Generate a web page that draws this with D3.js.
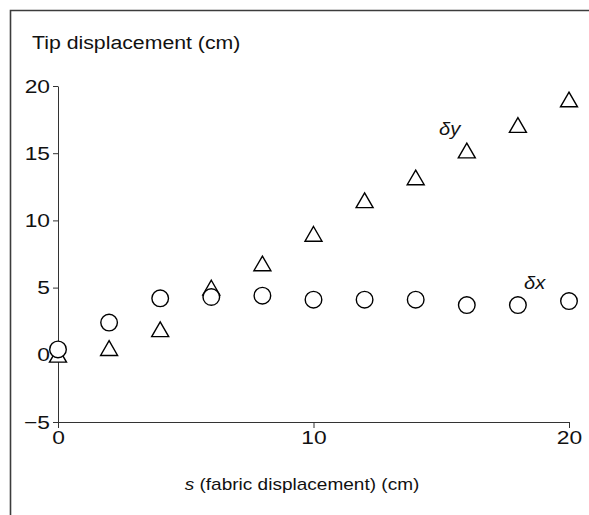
<!DOCTYPE html>
<html>
<head>
<meta charset="utf-8">
<script src="https://cdn.jsdelivr.net/npm/d3@7"></script>
<style>
  body { margin: 0; background: #fff; }
  svg text { font-family: "Liberation Sans", Arial, sans-serif; fill: #111; }
</style>
</head>
<body>
<div id="chart"></div>
<script>
// datos
const sValues = [0, 2, 4, 6, 8, 10, 12, 14, 16, 18, 20];
const deltaX = [0.4, 2.4, 4.2, 4.3, 4.4, 4.1, 4.1, 4.1, 3.7, 3.7, 4.0];
const deltaY = [0.0, 0.5, 1.9, 5.0, 6.8, 9.0, 11.5, 13.2, 15.2, 17.1, 19.0];
const xTicks = [0, 10, 20];
const yTicks = [-5, 0, 5, 10, 15, 20];

const width = 589, height = 515;

const svg = d3.select('#chart').append('svg')
    .attr('width', width).attr('height', height);

// marco exterior (solo arriba e izquierda visibles)
svg.append('path')
    .attr('d', `M10.5,${height} V10.5 H${width}`)
    .attr('fill', 'none').attr('stroke', '#3c3c3c').attr('stroke-width', 1.6);

const x = d3.scaleLinear().domain([0, 20]).range([58, 569]);
const y = d3.scaleLinear().domain([-5, 20]).range([422, 86]);

// texto con ensanche horizontal (el original sale algo ensanchado)
function label(px, py, size, stretch, anchor) {
    return svg.append('text')
        .attr('transform', `translate(${px},${py}) scale(${stretch},1)`)
        .attr('text-anchor', anchor || 'start')
        .attr('font-size', size);
}

// ejes
const tickFont = 19, tickStretch = 1.2;
const gx = svg.append('g').attr('transform', `translate(0,${y(-5)})`)
    .call(d3.axisBottom(x).tickValues(xTicks).tickSize(6).tickSizeOuter(0).tickPadding(3));
const gy = svg.append('g').attr('transform', `translate(${x(0)},0)`)
    .call(d3.axisLeft(y).tickValues(yTicks).tickSize(5).tickSizeOuter(0).tickPadding(3));

[gx, gy].forEach(g => {
    g.attr('font-family', null);
    g.selectAll('text').attr('font-size', tickFont).attr('transform', `scale(${tickStretch},1)`);
    g.selectAll('path, line').attr('stroke', '#333');
});
gy.selectAll('text').attr('x', -8 / tickStretch);

// títulos
label(32, 49, 19, 1.12).text('Tip displacement (cm)');

const xl = label(302, 490, 17, 1.12, 'middle');
xl.append('tspan').attr('font-style', 'italic').text('s');
xl.append('tspan').text(' (fabric displacement) (cm)');

// triángulo centrado en su caja
const triangleType = {
    draw(ctx, size) {
        const a = Math.sqrt(size * 4 / Math.sqrt(3));
        const h = a * Math.sqrt(3) / 2;
        ctx.moveTo(0, -h / 2);
        ctx.lineTo(a / 2, h / 2);
        ctx.lineTo(-a / 2, h / 2);
        ctx.closePath();
    }
};

svg.append('g').selectAll('path').data(sValues).enter().append('path')
    .attr('transform', (d, i) => `translate(${x(d)},${y(deltaY[i])})`)
    .attr('d', d3.symbol().type(triangleType).size(125))
    .attr('fill', '#fff').attr('stroke', '#000').attr('stroke-width', 1.4);

svg.append('g').selectAll('circle').data(sValues).enter().append('circle')
    .attr('cx', d => x(d)).attr('cy', (d, i) => y(deltaX[i]))
    .attr('r', 8.3)
    .attr('fill', '#fff').attr('stroke', '#000').attr('stroke-width', 1.4);

// etiquetas de serie
label(439, 135, 18, 1.12).attr('font-style', 'italic').text('δy');
label(524, 289, 18, 1.12).attr('font-style', 'italic').text('δx');
</script>
</body>
</html>
